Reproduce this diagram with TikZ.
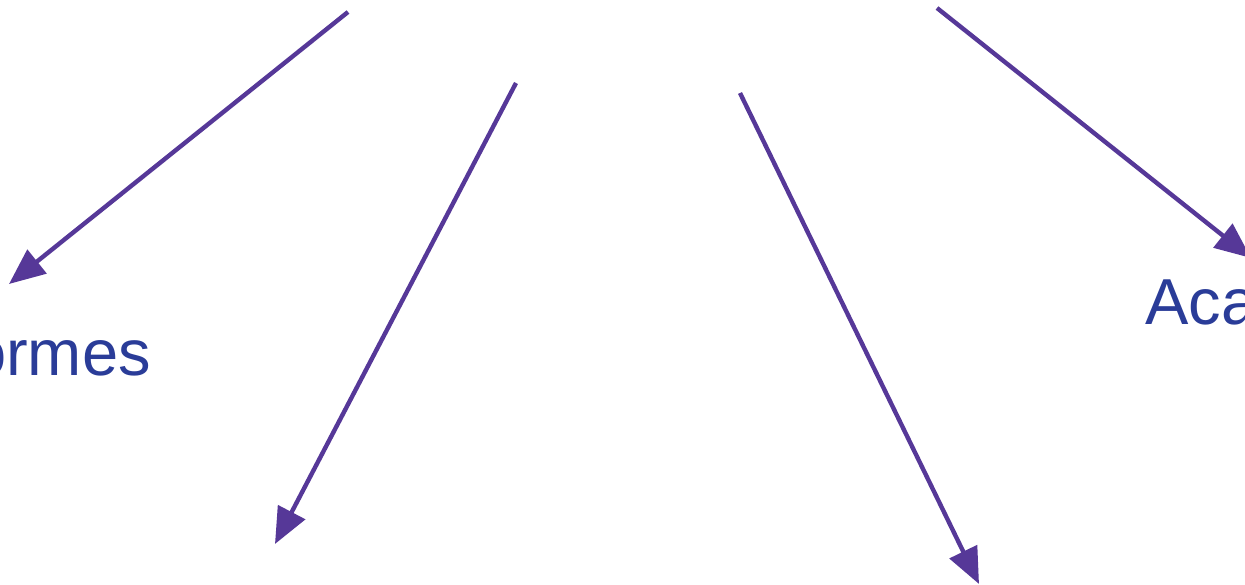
\documentclass[tikz,border=0pt]{standalone}
\usepackage{fontspec}
\setmainfont{Liberation Sans}
\usetikzlibrary{arrows.meta}
\definecolor{arrowpurple}{RGB}{86,56,152}
\definecolor{labelblue}{RGB}{42,60,152}
\tikzset{
	link/.style={line width=4.4pt, color=arrowpurple, -{Triangle[length=36pt,width=30pt]}},
	label/.style={color=labelblue, font=\fontsize{65}{65}\selectfont, inner sep=0pt}
}

\begin{document}
\begin{tikzpicture}[x=1pt, y=-1pt]
	\useasboundingbox (0,0) rectangle (1245,585);
	\clip (0,0) rectangle (1245,585);
	% labels, cut by the frame
	\node[label, anchor=base east] (formes) at (151,375) {ormes};
	\node[label, anchor=base west] (aca) at (1145,325) {Aca};
	% ends of the arrows
	\coordinate (s1) at (348,12);
	\coordinate (t1) at (9,284);
	\coordinate (s2) at (516,83);
	\coordinate (t2) at (275,544);
	\coordinate (s3) at (740,93);
	\coordinate (t3) at (979,584);
	\coordinate (s4) at (937,8);
	\coordinate (t4) at (1251,258);
	\draw[link] (s1) -- (t1);
	\draw[link] (s2) -- (t2);
	\draw[link] (s3) -- (t3);
	\draw[link] (s4) -- (t4);
\end{tikzpicture}
\end{document}
